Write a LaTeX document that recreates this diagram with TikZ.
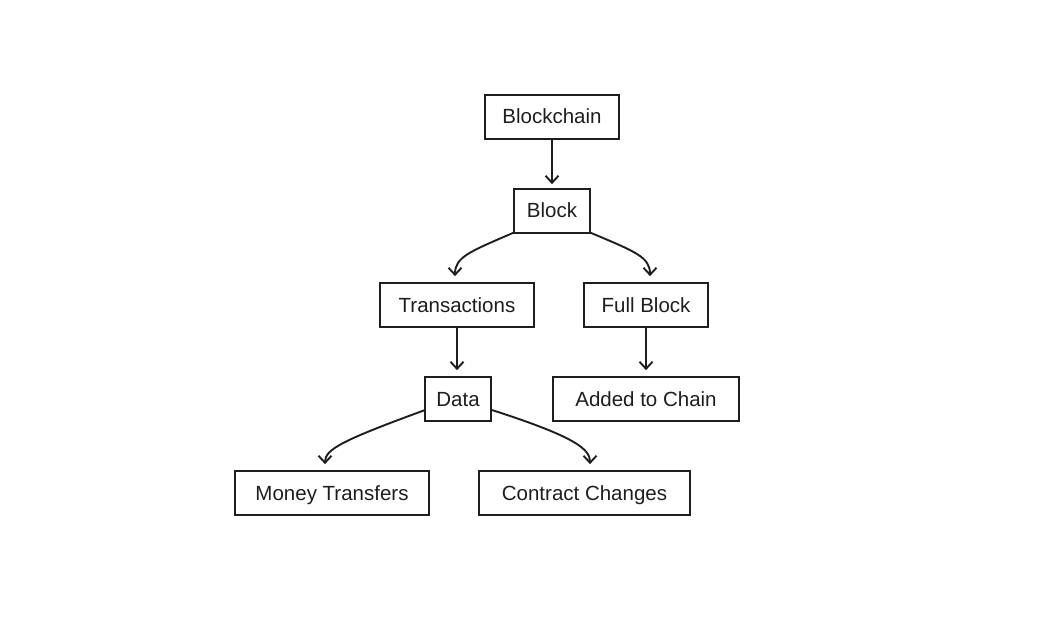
\documentclass[tikz,border=0pt]{standalone}
\usepackage{fontspec}
\setmainfont{Liberation Sans}
\usetikzlibrary{arrows.meta,calc}
\definecolor{ink}{HTML}{1E1E1E}
\begin{document}
\begin{tikzpicture}[x=1pt,y=-1pt,
  box/.style={draw=ink, text=ink, line width=1.7pt, minimum height=44pt, inner sep=0pt,
    text height=15pt, text depth=1pt,
    font=\fontsize{20.5}{24}\selectfont},
  arr/.style={draw=ink, line width=1.9pt, -{Straight Barb[length=7pt,width=13pt,line width=1.9pt]}}]
\useasboundingbox[fill=white] (0,0) rectangle (1041,639);
\node[box, minimum width=134pt] (bc) at (552,117) {Blockchain};
\node[box, minimum width=76pt] (bl) at (552,211) {Block};
\node[box, minimum width=154pt] (tr) at (457,305) {Transactions};
\node[box, minimum width=124pt] (fb) at (646,305) {Full Block};
\node[box, minimum width=66pt] (da) at (458,399) {Data};
\node[box, minimum width=186pt] (ac) at (646,399) {Added to Chain};
\node[box, minimum width=194pt] (mt) at (332,493) {Money Transfers};
\node[box, minimum width=211pt] (cc) at (584.5,493) {Contract Changes};
\draw[arr] (bc.south) -- ($(bl.north)+(0,-4)$);
\draw[arr] ($(bl.south west)+(0,-1)$) .. controls +(-44,19) and +(0,-19) .. ($(tr.north)+(-2,-6)$);
\draw[arr] ($(bl.south east)+(0,-1)$) .. controls +(45,19) and +(0,-19) .. ($(fb.north)+(4,-6)$);
\draw[arr] (tr.south) -- ($(tr.south |- da.north)+(0,-6)$);
\draw[arr] (fb.south) -- ($(ac.north)+(0,-6)$);
\draw[arr] ($(da.west)+(1,11)$) .. controls +(-82,30) and +(0,-15) .. ($(mt.north)+(-7,-6)$);
\draw[arr] ($(da.east)+(0,11)$) .. controls +(84,27) and +(0,-15) .. ($(cc.north)+(5.5,-6)$);
\end{tikzpicture}
\end{document}
